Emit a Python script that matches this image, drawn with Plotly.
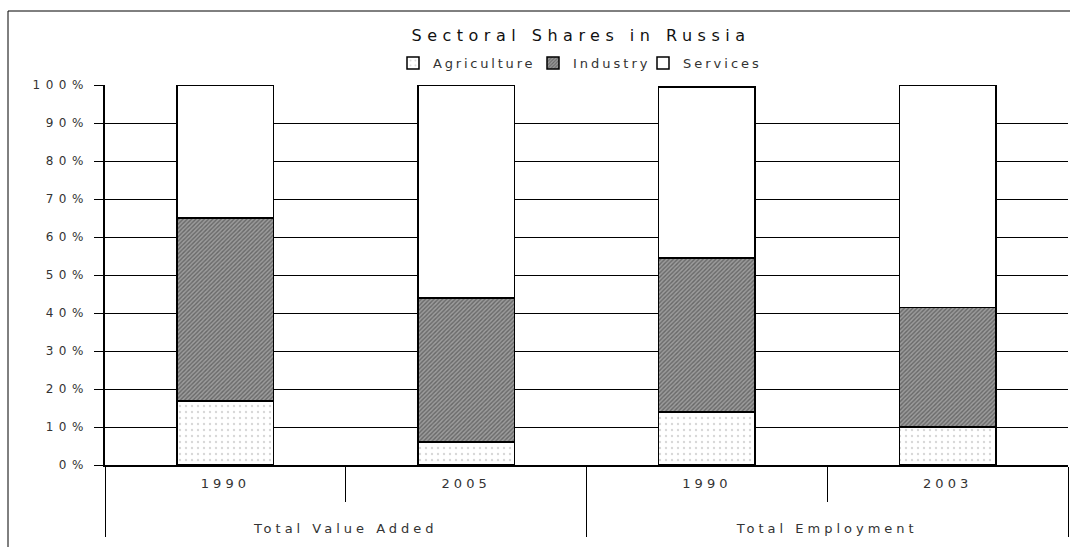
import plotly.graph_objects as go

groups = ["Total Value Added", "Total Value Added", "Total Employment", "Total Employment"]
years = ["1990", "2005", "1990", "2003"]
agriculture = [16.8, 6.0, 14.0, 10.0]
industry = [48.2, 38.0, 40.5, 31.5]
services = [35.0, 56.0, 45.0, 58.5]

FONT = "DejaVu Sans, Verdana, sans-serif"
W, H = 1070, 547
ML, MR, MT, MB = 105, 2, 85, 82
PW, PH = W - ML - MR, H - MT - MB

# group labels pushed down (second row of the category axis)
group_labels = ["<br><br>" + g for g in groups]

def px_x(p):
    return (p - ML) / PW

def px_y(p):
    return (H - MB - p) / PH

fig = go.Figure()
fig.add_trace(go.Bar(
    name="Agriculture", x=[group_labels, years], y=agriculture, legend="legend",
    marker=dict(color="white", line=dict(color="black", width=1.5),
                pattern=dict(shape=".", fgcolor="#b0b0b0", bgcolor="white", size=6, solidity=0.12)),
))
fig.add_trace(go.Bar(
    name="Industry", x=[group_labels, years], y=industry, legend="legend2",
    marker=dict(color="#888888", line=dict(color="black", width=1.5),
                pattern=dict(shape="/", fgcolor="#333333", bgcolor="#9c9c9c", size=3, solidity=0.45)),
))
fig.add_trace(go.Bar(
    name="Services", x=[group_labels, years], y=services, legend="legend3",
    marker=dict(color="white", line=dict(color="black", width=1.5)),
))

leg_common = dict(orientation="h", xanchor="left", yanchor="middle", y=px_y(63),
                  font=dict(size=13, color="#333"), itemwidth=30, bgcolor="rgba(0,0,0,0)",
                  entrywidth=150, entrywidthmode="pixels")

fig.update_layout(
    barmode="stack",
    bargap=0.6,
    width=W, height=H,
    margin=dict(l=ML, r=MR, t=MT, b=MB, autoexpand=False),
    paper_bgcolor="white", plot_bgcolor="white",
    font=dict(family=FONT, size=12, color="#222"),
    title=dict(text="Sectoral Shares in Russia", x=581 / W, xanchor="center", y=1 - 35 / H, yanchor="middle",
               font=dict(size=16, color="#111")),
    legend=dict(x=px_x(393), **leg_common),
    legend2=dict(x=px_x(533), **leg_common),
    legend3=dict(x=px_x(643), **leg_common),
    showlegend=True,
)
fig.update_yaxes(range=[0, 100], dtick=10, ticksuffix="%", showline=True, linecolor="black", linewidth=1.5,
                 ticks="outside", ticklen=9, tickcolor="black", tickwidth=1.2,
                 showgrid=True, gridcolor="black", gridwidth=1.2,
                 tickfont=dict(size=12, color="#333"), zeroline=False, automargin=False,
                 ticklabelstandoff=3)
fig.update_xaxes(type="multicategory", showline=True, linecolor="black", linewidth=1.5,
                 ticks="outside", tickson="boundaries", ticklen=35, tickcolor="black", tickwidth=1.2,
                 showdividers=True, dividercolor="black", dividerwidth=1.2,
                 tickfont=dict(size=13, color="#333"), showgrid=False, automargin=False,
                 ticklabelstandoff=6)

# outer chart frame
fig.add_shape(type="rect", xref="paper", yref="paper",
              x0=px_x(8), x1=1.02, y0=-0.5, y1=px_y(11),
              line=dict(color="black", width=1), fillcolor="rgba(0,0,0,0)", layer="below")

post = """
var s = document.createElement('style');
s.textContent = 'html,body{margin:0;padding:0;overflow:hidden} svg text{letter-spacing:3px} '
  + '.gtitle{letter-spacing:5.5px !important} .legendtext{letter-spacing:2.8px} '
  + '.ytick text{letter-spacing:5.5px} .xtick text{letter-spacing:4px} .xtick2 text{letter-spacing:4px}';
document.head.appendChild(s);
"""

fig.write_html("out.html", post_script=post, config={"displayModeBar": False})
